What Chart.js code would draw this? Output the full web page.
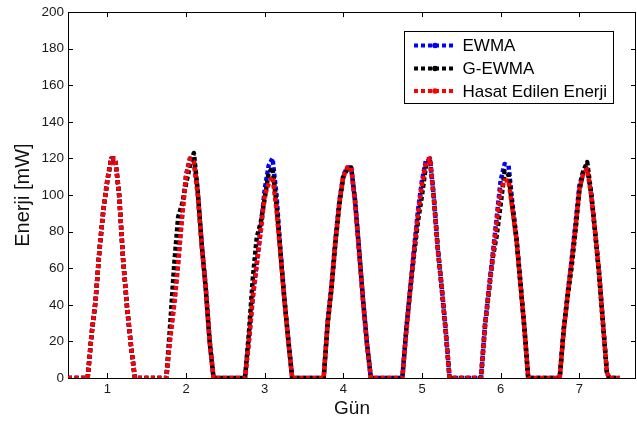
<!DOCTYPE html>
<html><head><meta charset="utf-8">
<script src="https://cdn.jsdelivr.net/npm/chart.js@4/dist/chart.umd.min.js"></script>
<style>html,body{margin:0;padding:0;background:#fff;}#wrap{width:637px;height:427px;position:relative}</style>
</head><body><div id="wrap"><canvas id="c" width="637" height="427"></canvas></div>
<script>
// Time (days)
const gun = [0.5,
  0.75,0.80,0.85,0.90,0.95,1.00,1.05,1.10,1.15,1.20,1.25,1.30,1.35,
  1.75,1.80,1.85,1.90,1.95,2.00,2.05,2.10,2.15,2.20,2.25,2.30,2.35,
  2.75,2.80,2.85,2.90,2.95,3.00,3.05,3.10,3.15,3.20,3.25,3.30,3.35,
  3.75,3.80,3.85,3.90,3.95,4.00,4.05,4.10,4.15,4.20,4.25,4.30,4.35,
  4.75,4.80,4.85,4.90,4.95,5.00,5.05,5.10,5.15,5.20,5.25,5.30,5.35,
  5.75,5.80,5.85,5.90,5.95,6.00,6.05,6.10,6.15,6.20,6.25,6.30,6.35,
  6.75,6.80,6.85,6.90,6.95,7.00,7.05,7.10,7.15,7.20,7.25,7.30,7.35,
  7.38,7.51];

const hasat = [0,
  0,24,42,70,92,108,120,120,100,65,39,18,0,
  0,22,40,62,88,110,120,118,100,72,50,20,0,
  0,20,44,62,80,100,106,110,92,68,43,20,0,
  0,30,50,75,96,110,115,115,95,69,42,18,0,
  0,25,48,70,90,106,118,120,98,70,50,26,0,
  0,28,48,66,86,103,108,108,92,76,52,28,0,
  0,25,45,63,82,103,112,114,100,80,58,30,3,
  0,0];

const ewma = [0,
  0,24,42,70,92,108,120,120,100,65,39,18,0,
  0,23,41,64,89,111,120,119,101,73,50,21,0,
  0,21,45,63,82,103,116,120,100,70,44,21,0,
  0,31,51,76,97,111,115,115,96,70,43,19,0,
  0,26,49,71,92,108,119,120,99,71,50,27,0,
  0,29,49,68,88,108,117,116,95,77,53,28,0,
  0,26,46,64,84,105,113,114,101,80,58,30,3,
  0,0];

const gEwma = [0,
  0,24,42,70,92,108,120,120,100,65,39,18,0,
  0,30,62,88,95,106,116,123,102,73,49,20,0,
  0,25,55,77,85,98,112,115,95,69,43,21,0,
  0,29,49,74,95,110,114,115,97,70,43,19,0,
  0,27,48,68,86,100,116,120,99,71,49,26,0,
  0,28,47,66,78,95,113,111,93,76,52,28,0,
  0,26,44,60,80,102,113,118,101,80,57,30,3,
  0,0];

const xTicks = [1,2,3,4,5,6,7];
const yTicks = [0,20,40,60,80,100,120,140,160,180,200];
const seriesNames = ['EWMA','G-EWMA','Hasat Edilen Enerji'];
const seriesColors = ['#0000ff','#000000','#ff0000'];

const FONT = '"Liberation Sans", Arial, Helvetica, sans-serif';
const toPts = arr => gun.map((x,i)=>({x:x, y:arr[i]}));

function ds(label, arr, color){
  return {label, data: toPts(arr), borderColor: color, backgroundColor: color,
    borderWidth: 4.5, borderDash: [4,2.5], borderCapStyle: 'butt', borderJoinStyle: 'round',
    pointRadius: 0, tension: 0, fill: false};
}

const framePlugin = {
  id: 'frame',
  beforeDatasetsDraw(chart){
    const {ctx, chartArea:a, scales:{x, y}} = chart;
    ctx.save();
    ctx.strokeStyle = '#000'; ctx.lineWidth = 1;
    ctx.strokeRect(Math.round(a.left)+0.5, Math.round(a.top)+0.5, Math.round(a.right-a.left)-1, Math.round(a.bottom-a.top));
    ctx.beginPath();
    const L = 5;
    xTicks.forEach(v=>{
      const px = Math.round(x.getPixelForValue(v))+0.5;
      ctx.moveTo(px, a.bottom); ctx.lineTo(px, a.bottom-L);
      ctx.moveTo(px, a.top); ctx.lineTo(px, a.top+L);
    });
    yTicks.forEach(v=>{
      const py = Math.round(y.getPixelForValue(v))+0.5;
      ctx.moveTo(a.left, py); ctx.lineTo(a.left+L, py);
      ctx.moveTo(a.right, py); ctx.lineTo(a.right-L, py);
    });
    ctx.stroke();
    ctx.restore();
  }
};

const legendPlugin = {
  id: 'boxLegend',
  afterDraw(chart){
    const ctx = chart.ctx;
    ctx.save();
    ctx.fillStyle = '#fff'; ctx.fillRect(404.5,31.5,209,72);
    ctx.strokeStyle = '#000'; ctx.lineWidth = 1; ctx.strokeRect(404.5,31.5,209,72);
    const rows = [45.5, 68.5, 91];
    seriesNames.forEach((name,i)=>{
      ctx.setLineDash([4,3]); ctx.lineWidth = 4; ctx.strokeStyle = seriesColors[i];
      ctx.beginPath(); ctx.moveTo(414, rows[i]); ctx.lineTo(453, rows[i]); ctx.stroke();
      ctx.setLineDash([]);
      ctx.beginPath(); ctx.arc(435, rows[i], 2.8, 0, 2*Math.PI); ctx.fillStyle = seriesColors[i]; ctx.fill();
      ctx.fillStyle = '#000'; ctx.font = '17px ' + FONT; ctx.textBaseline = 'middle'; ctx.textAlign = 'left';
      ctx.fillText(name, 462.5, rows[i]+1);
    });
    ctx.restore();
  }
};

new Chart(document.getElementById('c'), {
  type: 'line',
  data: { datasets: [
    ds(seriesNames[2], hasat, seriesColors[2]),
    ds(seriesNames[1], gEwma, seriesColors[1]),
    ds(seriesNames[0], ewma, seriesColors[0])
  ]},
  options: {
    responsive: false, animation: false, devicePixelRatio: 1,
    layout: { padding: { top: 7, right: 1, left: 0, bottom: 0 } },
    plugins: { legend: { display: false }, tooltip: { enabled: false } },
    scales: {
      x: {
        type: 'linear', min: 0.5, max: 7.72,
        afterBuildTicks: s => { s.ticks = xTicks.map(v=>({value:v})); },
        afterFit: s => { s.height = 49; },
        grid: { display: false, drawTicks: false }, border: { display: false },
        ticks: { font: { family: FONT, size: 13 }, color: '#1a1a1a', padding: 4, maxRotation: 0, autoSkip: false },
        title: { display: true, text: 'Gün', font: { family: FONT, size: 19, lineHeight: 1.2 }, color: '#111', padding: { top: 0, bottom: 7 } }
      },
      y: {
        min: 0, max: 200,
        afterBuildTicks: s => { s.ticks = yTicks.map(v=>({value:v})); },
        afterFit: s => { s.width = 68; },
        grid: { display: false, drawTicks: false }, border: { display: false },
        ticks: { font: { family: FONT, size: 13.5 }, color: '#1a1a1a', padding: 4, autoSkip: false },
        title: { display: true, text: 'Enerji [mW]', font: { family: FONT, size: 20, lineHeight: 1.2 }, color: '#111', padding: { top: 11, bottom: 0 } }
      }
    }
  },
  plugins: [framePlugin, legendPlugin]
});
</script></body></html>
